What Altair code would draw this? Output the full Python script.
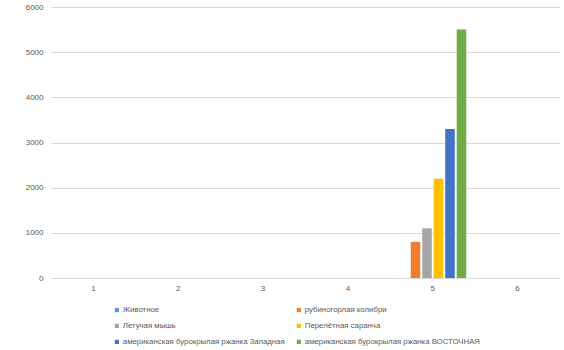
import altair as alt
import pandas as pd

categories = ["1", "2", "3", "4", "5", "6"]
series = [
    "Животное",
    "рубиногорлая колибри",
    "Летучая мышь",
    "Перелётная саранча",
    "американская бурокрылая ржанка Западная",
    "американская бурокрылая ржанка ВОСТОЧНАЯ",
]
colors = ["#5B9BD5", "#ED7D31", "#A5A5A5", "#FFC000", "#4472C4", "#70AD47"]
values = {
    "Животное": [0, 0, 0, 0, 0, 0],
    "рубиногорлая колибри": [0, 0, 0, 0, 800, 0],
    "Летучая мышь": [0, 0, 0, 0, 1100, 0],
    "Перелётная саранча": [0, 0, 0, 0, 2200, 0],
    "американская бурокрылая ржанка Западная": [0, 0, 0, 0, 3300, 0],
    "американская бурокрылая ржанка ВОСТОЧНАЯ": [0, 0, 0, 0, 5500, 0],
}

rows = []
for s in series:
    for c, v in zip(categories, values[s]):
        rows.append({"cat": c, "series": s, "value": v})
df = pd.DataFrame(rows)

FONT = "Liberation Sans"
TXT = "#595959"

chart = (
    alt.Chart(df)
    .mark_bar()
    .encode(
        x=alt.X(
            "cat:N",
            sort=categories,
            scale=alt.Scale(paddingInner=0.21, paddingOuter=0.105),
            axis=alt.Axis(
                title=None, labelAngle=0, ticks=False, domain=False,
                labelFontSize=8, labelColor=TXT, labelFont=FONT, labelPadding=6,
            ),
        ),
        xOffset=alt.XOffset(
            "series:N", sort=series, scale=alt.Scale(paddingInner=0.17, paddingOuter=0)
        ),
        y=alt.Y(
            "value:Q",
            scale=alt.Scale(domain=[0, 6000], nice=False),
            axis=alt.Axis(
                title=None, values=[0, 1000, 2000, 3000, 4000, 5000, 6000],
                format="d",
                ticks=False, domain=False, gridColor="#d9d9d9", gridWidth=1,
                labelFontSize=8, labelColor=TXT, labelFont=FONT, labelPadding=8,
            ),
        ),
        color=alt.Color(
            "series:N",
            sort=series,
            scale=alt.Scale(domain=series, range=colors),
            legend=alt.Legend(
                title=None, orient="none", legendX=62, legendY=299,
                direction="horizontal",
                columns=2, symbolType="square", symbolSize=18,
                labelFontSize=7.8, labelColor=TXT, labelFont=FONT,
                rowPadding=7, columnPadding=10, labelOffset=2, padding=0,
                labelLimit=300,
            ),
        ),
    )
    .properties(
        width=509, height=271,
        padding={"left": 51, "top": 7, "right": 4, "bottom": 72},
        autosize="none",
        background="white",
    )
    .configure_view(stroke=None)
)

chart.save("out.html", embed_options={"renderer": "svg", "actions": False})
